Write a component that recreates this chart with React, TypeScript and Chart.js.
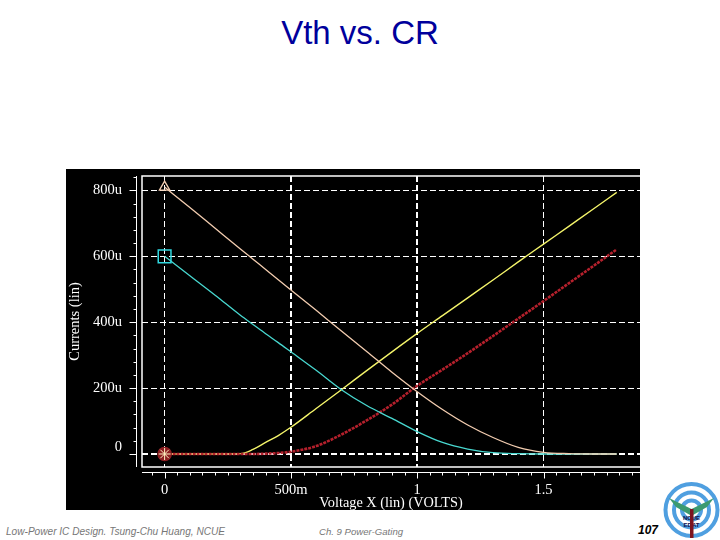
import { useEffect, useRef } from "react";
import { Chart, registerables } from "chart.js";

Chart.register(...registerables);

const voltages = [0, 0.1, 0.2, 0.3, 0.35, 0.4, 0.45, 0.5, 0.6, 0.7, 0.8, 0.9, 1.0, 1.1, 1.2, 1.3, 1.4, 1.5, 1.6, 1.7, 1.79];
const peachCurrent = [810, 748, 685, 622, 591, 560, 529, 498, 436, 373, 311, 248, 189, 135, 88, 50, 20, 5, 1, 0, 0];
const cyanCurrent = [600, 541, 482, 421, 393, 365, 338, 310, 254, 195, 147, 108, 68, 35, 15, 4, 1, 0, 0, 0, 0];
const yellowCurrent = [0, 0, 0, 1, 14, 35, 56, 81, 138, 195, 253, 310, 366, 420, 474, 528, 583, 637, 691, 745, 794];
const redCurrent = [0, 0, 0, 0, 0, 1, 3, 7, 24, 59, 102, 150, 207, 256, 306, 358, 411, 464, 518, 572, 621];

const xTicks = [0, 0.5, 1, 1.5];
const xTickLabels = ["0", "500m", "1", "1.5"];
const yTicks = [0, 200, 400, 600, 800];
const yTickLabels = ["0", "200u", "400u", "600u", "800u"];
const xMinorStep = 0.05;
const yMinorStep = 40;

const serif = "'Liberation Serif', serif";
const sans = "'Liberation Sans', Arial, sans-serif";

const series = (values: number[]) => voltages.map((v, i) => ({ x: v, y: values[i] }));
const firstOnly = (size: number) => (ctx: any) => (ctx.dataIndex === 0 ? size : 0);

// the two separate tick rulers Hspice draws outside the plot frame
const rulers = {
  id: "rulers",
  afterDraw(chart: any) {
    const { ctx, chartArea, scales } = chart;
    const { left, right, top, bottom } = chartArea;
    ctx.save();
    ctx.strokeStyle = "#fff";
    ctx.lineWidth = 1;

    ctx.beginPath();
    ctx.moveTo(left - 5.5, top);
    ctx.lineTo(left - 5.5, bottom);
    ctx.moveTo(left, bottom + 5.5);
    ctx.lineTo(right, bottom + 5.5);
    for (let k = -1; k * yMinorStep < 860; k++) {
      const y = Math.round(scales.y.getPixelForValue(k * yMinorStep)) + 0.5;
      if (y < top || y > bottom) continue;
      const len = (k * yMinorStep) % 200 === 0 ? 7 : 3;
      ctx.moveTo(left - 5.5, y);
      ctx.lineTo(left - 5.5 - len, y);
    }
    for (let k = -2; k * xMinorStep < 1.9; k++) {
      const x = Math.round(scales.x.getPixelForValue(k * xMinorStep)) + 0.5;
      if (x < left || x > right) continue;
      const len = k % 10 === 0 ? 6 : 3;
      ctx.moveTo(x, bottom + 5.5);
      ctx.lineTo(x, bottom + 5.5 + len);
    }
    ctx.stroke();

    // plot frame, open on the right where the screenshot was cropped
    ctx.beginPath();
    ctx.moveTo(right, top);
    ctx.lineTo(left, top);
    ctx.lineTo(left, bottom);
    ctx.lineTo(right, bottom);
    ctx.lineWidth = 1.5;
    ctx.stroke();
    ctx.restore();
  },
};

// labels would otherwise pull the plot area in from the canvas edges
const clearPadding = (s: any) => {
  s.paddingTop = 0;
  s.paddingBottom = 0;
  s.paddingLeft = 0;
  s.paddingRight = 0;
};

const App = () => {
  const chartRef = useRef<HTMLCanvasElement | null>(null);

  useEffect(() => {
    if (!chartRef.current) return;
    document.body.style.margin = "0";

    const chart = new Chart(chartRef.current, {
      type: "line",
      data: {
        datasets: [
          {
            label: "marker",
            data: [{ x: voltages[0], y: yellowCurrent[0] }],
            pointStyle: "star",
            pointRadius: 6,
            pointBorderColor: "#fff0c0",
            pointBorderWidth: 1,
            showLine: false,
          },
          {
            label: "peach",
            data: series(peachCurrent),
            borderColor: "#f3cdb0",
            borderWidth: 1.3,
            cubicInterpolationMode: "monotone",
            pointStyle: "triangle",
            pointRadius: firstOnly(6),
            pointBorderColor: "#f3cdb0",
            pointBackgroundColor: "transparent",
          },
          {
            label: "cyan",
            data: series(cyanCurrent),
            borderColor: "#48d8d0",
            borderWidth: 1.3,
            cubicInterpolationMode: "monotone",
            pointStyle: "rect",
            pointRadius: firstOnly(9),
            pointBorderColor: "#30d8e0",
            pointBorderWidth: 1.5,
            pointBackgroundColor: "transparent",
          },
          {
            label: "red",
            data: series(redCurrent),
            borderColor: "#b5202c",
            borderWidth: 2.6,
            borderDash: [3, 1],
            cubicInterpolationMode: "monotone",
            pointStyle: "circle",
            pointRadius: firstOnly(6),
            pointBorderColor: "#8c1c20",
            pointBackgroundColor: "#8c1c20",
          },
          {
            label: "yellow",
            data: series(yellowCurrent),
            borderColor: "#f4f46a",
            borderWidth: 1.4,
            cubicInterpolationMode: "monotone",
            pointRadius: 0,
          },
        ],
      },
      options: {
        responsive: false,
        animation: false,
        layout: { autoPadding: false, padding: { top: 7 } },
        plugins: { legend: { display: false }, title: { display: false }, tooltip: { enabled: false } },
        scales: {
          x: {
            type: "linear",
            min: -0.0895,
            max: 1.882,
            afterBuildTicks: (s: any) => {
              s.ticks = xTicks.map((value) => ({ value }));
            },
            afterFit: (s: any) => {
              s.height = 43;
              clearPadding(s);
            },
            border: { display: false, dash: [6, 3] },
            grid: {
              color: "#fff",
              lineWidth: (c: any) => (c.tick && (c.tick.value === 0.5 || c.tick.value === 1) ? 2 : 1),
              drawTicks: false,
            },
            ticks: {
              autoSkip: false,
              maxRotation: 0,
              padding: 14,
              color: "#fff",
              font: { family: serif, size: 14.5 },
              callback: (v: any) => xTickLabels[xTicks.indexOf(Number(v))],
            },
            title: {
              display: true,
              text: "Voltage X (lin) (VOLTS)",
              color: "#fff",
              font: { family: serif, size: 14.3, lineHeight: 1 },
              padding: 0,
            },
          },
          y: {
            min: -39.5,
            max: 843.7,
            afterBuildTicks: (s: any) => {
              s.ticks = yTicks.map((value) => ({ value }));
            },
            afterFit: (s: any) => {
              s.width = 76;
              clearPadding(s);
            },
            border: { display: false, dash: [6, 3] },
            grid: {
              color: "#fff",
              lineWidth: (c: any) => (c.tick && c.tick.value === 0 ? 2 : 1),
              drawTicks: false,
            },
            ticks: {
              autoSkip: false,
              padding: 20,
              color: "#fff",
              font: { family: serif, size: 14.5, lineHeight: 0.9 },
              // the 0 label sits above its gridline in the original
              callback: (v: any) => (Number(v) === 0 ? ["0", ""] : yTickLabels[yTicks.indexOf(Number(v))]),
            },
            title: {
              display: true,
              text: "Currents (lin)",
              color: "#fff",
              font: { family: serif, size: 14.5 },
              padding: 0,
            },
          },
        },
      },
      plugins: [rulers],
    } as any);

    return () => chart.destroy();
  }, []);

  const footer = { position: "absolute", fontFamily: sans, fontStyle: "italic", color: "#777" } as const;

  return (
    <div style={{ position: "relative", width: 720, height: 540, background: "#fff", overflow: "hidden" }}>
      <div
        style={{
          position: "absolute",
          left: 0,
          width: 720,
          top: 14,
          textAlign: "center",
          fontFamily: sans,
          fontSize: 33,
          lineHeight: "38px",
          color: "#00009c",
        }}
      >
        Vth vs. CR
      </div>
      <canvas
        ref={chartRef}
        width={574}
        height={341}
        style={{ position: "absolute", left: 66, top: 169, background: "#000" }}
      />
      <div style={{ ...footer, fontSize: 10.1, left: 6, top: 526 }}>Low-Power IC Design. Tsung-Chu Huang, NCUE</div>
      <div style={{ ...footer, fontSize: 9.6, left: 319, top: 526 }}>Ch. 9 Power-Gating</div>
      <div
        style={{
          position: "absolute",
          left: 638,
          top: 523,
          fontFamily: sans,
          fontSize: 12,
          fontWeight: "bold",
          fontStyle: "italic",
          color: "#000",
        }}
      >
        107
      </div>
      <svg width={60} height={60} viewBox="0 0 60 60" style={{ position: "absolute", left: 662, top: 480 }}>
        <circle cx={29.5} cy={30} r={26} fill="none" stroke="#4f9fe0" strokeWidth={4} />
        <circle cx={29.5} cy={30} r={17.5} fill="none" stroke="#4f9fe0" strokeWidth={4} />
        <circle cx={29.5} cy={30} r={9.5} fill="none" stroke="#4f9fe0" strokeWidth={4} />
        <polygon points="29.5,29 7,18 14,27 28,35" fill="#3c9a70" />
        <polygon points="29.5,29 52,18 45,27 31,35" fill="#3c9a70" />
        <text x={29.5} y={40} textAnchor="middle" fontFamily={sans} fontSize={6} fontWeight="bold" fill="#10104a">
          NCUE
        </text>
        <text x={29.5} y={47} textAnchor="middle" fontFamily={sans} fontSize={6} fontWeight="bold" fill="#10104a">
          EDAT
        </text>
        <rect x={28} y={29} width={3.5} height={29} fill="#7c1420" />
      </svg>
    </div>
  );
};

export default App;
